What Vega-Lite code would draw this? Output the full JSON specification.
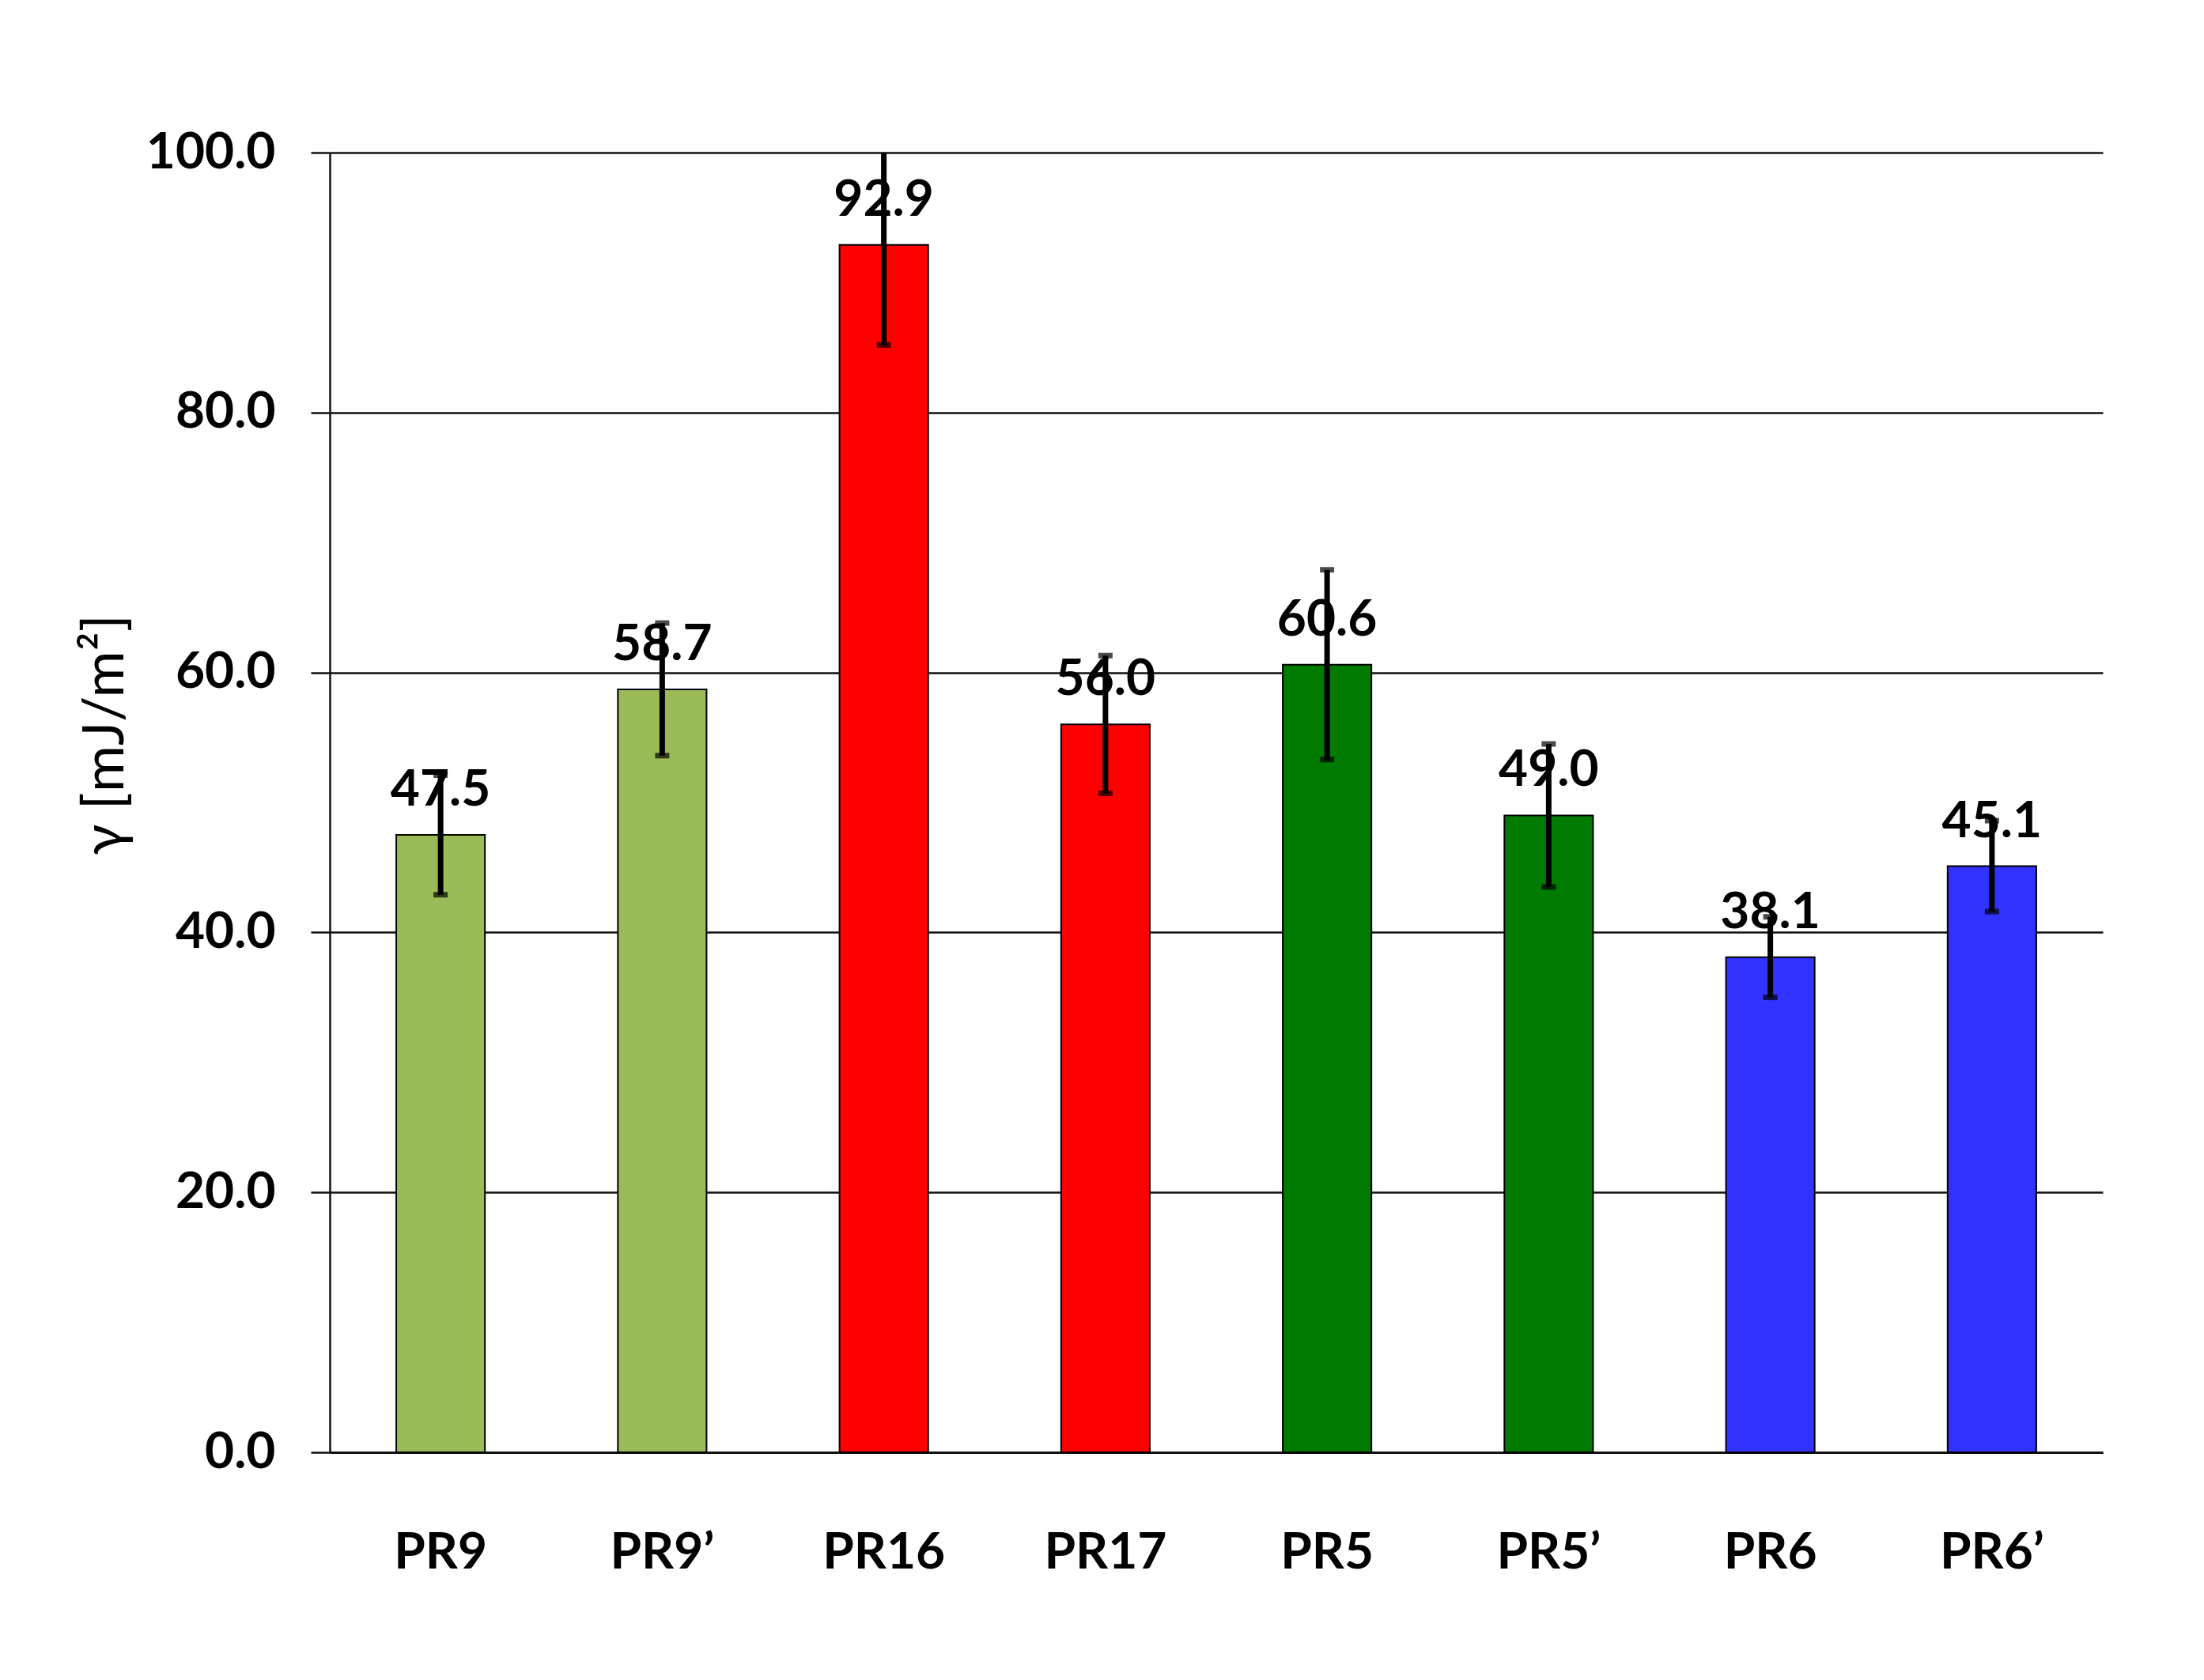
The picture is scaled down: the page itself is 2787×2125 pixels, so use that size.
{
  "$schema": "https://vega.github.io/schema/vega-lite/v6.json",
  "width": 2242,
  "height": 1644,
  "autosize": {"type": "none"},
  "padding": {"left": 417, "top": 193, "right": 128, "bottom": 288},
  "background": "white",
  "config": {"font": "Lato", "view": {"stroke": null}},
  "data": {
    "values": [
      {"sample": "PR9", "gamma": 47.5, "err": 4.6, "group": "PR9"},
      {"sample": "PR9’", "gamma": 58.7, "err": 5.1, "group": "PR9"},
      {"sample": "PR16", "gamma": 92.9, "err": 7.7, "group": "PR16/PR17"},
      {"sample": "PR17", "gamma": 56.0, "err": 5.3, "group": "PR16/PR17"},
      {"sample": "PR5", "gamma": 60.6, "err": 7.3, "group": "PR5"},
      {"sample": "PR5’", "gamma": 49.0, "err": 5.5, "group": "PR5"},
      {"sample": "PR6", "gamma": 38.1, "err": 3.1, "group": "PR6"},
      {"sample": "PR6’", "gamma": 45.1, "err": 3.5, "group": "PR6"}
    ]
  },
  "encoding": {
    "x": {
      "field": "sample",
      "type": "nominal",
      "sort": null,
      "scale": {"paddingInner": 0.6, "paddingOuter": 0.3},
      "axis": {
        "title": null,
        "labelAngle": 0,
        "ticks": false,
        "tickSize": 0,
        "labelPadding": 95,
        "labelFontSize": 64,
        "labelFontWeight": "bold",
        "labelColor": "black",
        "domainColor": "#111111",
        "domainWidth": 3,
        "grid": false
      }
    },
    "y": {
      "field": "gamma",
      "type": "quantitative",
      "scale": {"domain": [0, 100], "nice": false},
      "axis": {
        "values": [0, 20, 40, 60, 80, 100],
        "format": ".1f",
        "labelFontSize": 64,
        "labelFontWeight": "bold",
        "labelColor": "black",
        "labelPadding": 45,
        "tickSize": 24,
        "tickColor": "#111111",
        "tickWidth": 2.5,
        "domainColor": "#111111",
        "domainWidth": 2.5,
        "grid": true,
        "gridColor": "#111111",
        "gridWidth": 2.5,
        "title": "γ [mJ/m²]",
        "titleFontSize": 72,
        "titleFontWeight": "normal",
        "titleColor": "black",
        "titleX": -262,
        "titleY": 736,
        "titleAlign": "center",
        "titleBaseline": "alphabetic"
      }
    }
  },
  "layer": [
    {
      "mark": {"type": "bar", "stroke": "black", "strokeWidth": 2},
      "encoding": {
        "color": {
          "field": "group",
          "type": "nominal",
          "scale": {
            "domain": ["PR9", "PR16/PR17", "PR5", "PR6"],
            "range": ["#9BBB59", "#FF0000", "#007A00", "#3333FF"]
          },
          "legend": null
        }
      }
    },
    {
      "mark": {"type": "text", "dy": -37, "baseline": "alphabetic", "fontSize": 64, "fontWeight": "bold", "color": "black"},
      "encoding": {
        "text": {"field": "gamma", "type": "quantitative", "format": ".1f"}
      }
    },
    {
      "mark": {
        "type": "errorbar",
        "clip": true,
        "color": "black",
        "thickness": 7,
        "size": 18,
        "rule": {"strokeWidth": 7, "color": "black"},
        "ticks": {"thickness": 7, "size": 18, "color": "black"}
      },
      "encoding": {
        "yError": {"field": "err"}
      }
    }
  ]
}
